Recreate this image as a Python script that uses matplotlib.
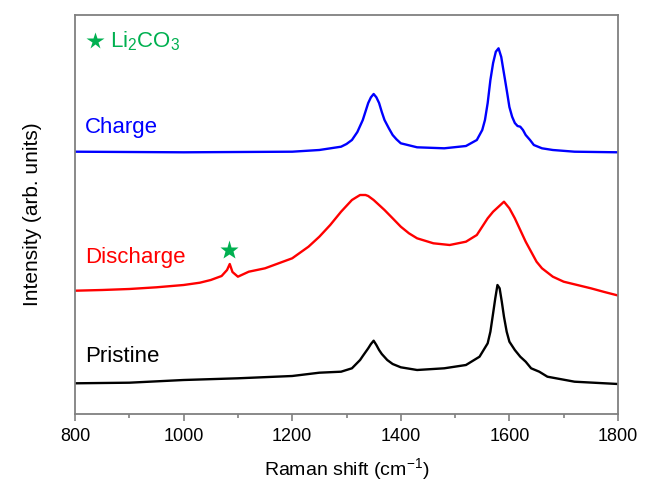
import matplotlib
matplotlib.use("Agg")
import matplotlib.pyplot as plt
from matplotlib.ticker import MultipleLocator

plt.rcParams["font.family"] = ["Liberation Sans", "DejaVu Sans"]
plt.rcParams["mathtext.fontset"] = "custom"
plt.rcParams["mathtext.rm"] = "Liberation Sans"
plt.rcParams["mathtext.it"] = "Liberation Sans"

# Raman spectra (arbitrary intensity units, stacked)
charge_x = [800, 900, 1000, 1100, 1200, 1250, 1290, 1300, 1310, 1320, 1330, 1340, 1345, 1350,
            1355, 1360, 1365, 1370, 1378, 1385, 1392, 1400, 1430, 1480, 1520, 1540, 1550, 1555,
            1560, 1565, 1570, 1575, 1580, 1585, 1588, 1592, 1596, 1600, 1605, 1610, 1615, 1620,
            1625, 1630, 1638, 1645, 1660, 1680, 1720, 1800]
charge_y = [262.3, 262.0, 261.7, 262.0, 262.3, 264.0, 267.3, 270.0, 274.0, 282.0, 294.0, 311.0, 316.7, 320.0,
            316.7, 311.0, 302.0, 294.0, 285.7, 279.0, 274.7, 270.7, 266.7, 265.7, 268.0, 274.0, 284.0, 294.0,
            311.0, 334.0, 351.0, 362.3, 365.7, 357.0, 347.0, 334.0, 320.7, 307.0, 297.3, 291.0, 288.0, 287.3,
            284.0, 279.0, 274.0, 269.0, 265.7, 264.0, 262.3, 261.7]

discharge_x = [800, 850, 900, 950, 1000, 1030, 1050, 1060, 1070, 1080, 1085, 1090, 1100, 1120,
               1150, 1200, 1230, 1250, 1270, 1290, 1310, 1318, 1325, 1335, 1340, 1350, 1360, 1370,
               1385, 1400, 1415, 1430, 1460, 1490, 1520, 1540, 1560, 1570, 1580, 1590, 1600, 1610,
               1620, 1630, 1640, 1650, 1660, 1680, 1700, 1725, 1750, 1775, 1800]
discharge_y = [123.3, 124.0, 125.0, 126.7, 129.0, 131.3, 134.0, 136.0, 138.0, 144.0, 150.0, 142.0, 137.3, 142.3,
               145.7, 155.7, 167.3, 177.3, 189.0, 202.3, 214.0, 216.7, 219.0, 219.0, 218.0, 214.0, 209.0, 204.0,
               195.7, 187.3, 180.7, 175.7, 170.7, 169.0, 172.3, 179.0, 195.7, 202.3, 207.3, 212.3, 205.7, 195.7,
               184.0, 172.3, 162.3, 152.3, 145.7, 137.3, 132.3, 129.0, 125.7, 122.0, 118.5]

pristine_x = [800, 900, 1000, 1100, 1200, 1250, 1290, 1310, 1325, 1330, 1340, 1345, 1350, 1355,
              1360, 1365, 1375, 1385, 1400, 1430, 1480, 1520, 1545, 1560, 1565, 1570, 1574, 1578,
              1582, 1586, 1590, 1595, 1600, 1610, 1620, 1630, 1640, 1655, 1670, 1720, 1800]
pristine_y = [30.7, 31.3, 34.0, 35.7, 38.0, 41.3, 42.3, 45.7, 54.0, 58.0, 65.7, 70.0, 73.3, 69.0,
              64.0, 60.0, 54.0, 50.0, 46.7, 44.0, 45.7, 49.0, 57.3, 70.7, 82.3, 100.7, 115.7, 129.0,
              125.7, 112.3, 97.3, 82.3, 72.3, 64.0, 57.3, 52.3, 45.7, 42.3, 37.3, 32.3, 30.0]

labels = ["Charge", "Discharge", "Pristine"]
label_y = [287, 156, 57]
li2co3_star = (1083, 164)

fig = plt.figure(figsize=(6.46, 4.88), dpi=100)
ax = fig.add_axes([75 / 646, 74 / 488, 543 / 646, 399 / 488])

ax.plot(charge_x, charge_y, color="#0000FF", lw=1.7)
ax.plot(discharge_x, discharge_y, color="#FF0000", lw=1.7)
ax.plot(pristine_x, pristine_y, color="black", lw=1.7)

colors = ["#0000FF", "#FF0000", "black"]
for lab, yy, c in zip(labels, label_y, colors):
    ax.text(818, yy, lab, color=c, fontsize=16, ha="left", va="center")

ax.plot(*li2co3_star, marker="*", ms=14, color="#00B050", mec="none")
ax.plot(837, 373, marker="*", ms=13, color="#00B050", mec="none", clip_on=False)
ax.text(864, 373, "Li$_2$CO$_3$", color="#00B050", fontsize=16, ha="left", va="center")

ax.set_xlim(800, 1800)
ax.set_ylim(0, 399)
ax.set_yticks([])
ax.xaxis.set_major_locator(MultipleLocator(200))
ax.xaxis.set_minor_locator(MultipleLocator(100))
ax.tick_params(axis="x", which="major", direction="out", length=5, width=1.2,
               color="#808080", labelsize=13, pad=5)
ax.tick_params(axis="x", which="minor", direction="out", length=3, width=1.2, color="#808080")
for sp in ax.spines.values():
    sp.set_color("#808080")
    sp.set_linewidth(1.3)

ax.set_xlabel("Raman shift (cm$^{-1}$)", fontsize=14, labelpad=8)
ax.set_ylabel("Intensity (arb. units)", fontsize=15, labelpad=24)

fig.savefig("out.png", dpi=100)
